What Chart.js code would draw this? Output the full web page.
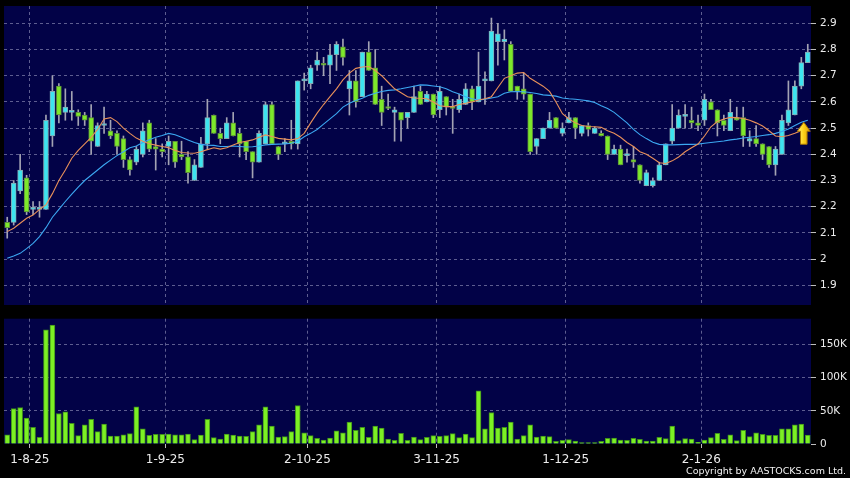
<!DOCTYPE html>
<html>
<head>
<meta charset="utf-8">
<title>Daily chart</title>
<script src="https://cdn.jsdelivr.net/npm/chart.js@4.4.1/dist/chart.umd.min.js"></script>
<style>
  html, body { margin: 0; padding: 0; background: #000; }
  #wrap { position: relative; width: 850px; height: 478px; background: #000; overflow: hidden; }
  #priceCanvas { position: absolute; left: 0; top: 0; }
  #volCanvas { position: absolute; left: 0; top: 312px; }
  #copyright { position: absolute; right: 4px; top: 465px; color: #f2f2f2; font: 9.5px "DejaVu Sans", Verdana, sans-serif; line-height: 12px; }
</style>
</head>
<body>
<div id="wrap">
  <canvas id="priceCanvas" width="850" height="312"></canvas>
  <canvas id="volCanvas" width="850" height="166"></canvas>
  <div id="copyright">Copyright by AASTOCKS.com Ltd.</div>
</div>
<script>
// ===== Data (one entry per trading day) =====
const tickBars = [4, 25, 47, 67, 87, 108];
const tickDates = ['1-8-25', '1-9-25', '2-10-25', '3-11-25', '1-12-25', '2-1-26'];
const priceTicks = [1.9, 2.0, 2.1, 2.2, 2.3, 2.4, 2.5, 2.6, 2.7, 2.8, 2.9];
const priceTickLabels = ['1.9', '2', '2.1', '2.2', '2.3', '2.4', '2.5', '2.6', '2.7', '2.8', '2.9'];
const volTicks = [0, 50, 100, 150];
const volTickLabels = ['0', '50K', '100K', '150K'];

const opens = [
  2.14, 2.14, 2.26, 2.31, 2.19, 2.19, 2.19, 2.47, 2.66, 2.56,
  2.56, 2.56, 2.55, 2.54, 2.43, 2.51, 2.49, 2.48, 2.46, 2.38,
  2.37, 2.40, 2.52, 2.43, 2.42, 2.43, 2.45, 2.40, 2.39, 2.30,
  2.35, 2.44, 2.55, 2.48, 2.46, 2.52, 2.48, 2.45, 2.41, 2.37,
  2.44, 2.59, 2.43, 2.44, 2.45, 2.44, 2.68, 2.67, 2.74, 2.745,
  2.74, 2.78, 2.81, 2.65, 2.68, 2.62, 2.79, 2.73, 2.61, 2.58,
  2.56, 2.56, 2.54, 2.56, 2.64, 2.60, 2.63, 2.57, 2.62, 2.58,
  2.57, 2.59, 2.65, 2.60, 2.68, 2.68, 2.83, 2.83, 2.82, 2.66,
  2.65, 2.63, 2.43, 2.46, 2.50, 2.54, 2.48, 2.52, 2.54, 2.48,
  2.51, 2.48, 2.48, 2.47, 2.40, 2.42, 2.395, 2.38, 2.36, 2.28,
  2.28, 2.30, 2.36, 2.45, 2.50, 2.545, 2.53, 2.52, 2.53, 2.60,
  2.57, 2.53, 2.49, 2.54, 2.54, 2.45, 2.46, 2.44, 2.43, 2.36,
  2.40, 2.52, 2.55, 2.66, 2.75
];
const highs = [
  2.16, 2.30, 2.40, 2.32, 2.22, 2.22, 2.55, 2.70, 2.67, 2.65,
  2.64, 2.57, 2.56, 2.59, 2.52, 2.58, 2.53, 2.49, 2.47, 2.39,
  2.43, 2.52, 2.53, 2.46, 2.44, 2.47, 2.45, 2.45, 2.41, 2.38,
  2.465, 2.61, 2.55, 2.50, 2.54, 2.56, 2.50, 2.45, 2.41, 2.49,
  2.60, 2.60, 2.43, 2.46, 2.53, 2.68, 2.71, 2.74, 2.79, 2.77,
  2.82, 2.83, 2.84, 2.72, 2.72, 2.79, 2.83, 2.80, 2.66, 2.63,
  2.58, 2.56, 2.56, 2.66, 2.66, 2.64, 2.63, 2.66, 2.62, 2.61,
  2.63, 2.67, 2.66, 2.79, 2.715, 2.92, 2.90, 2.875, 2.83, 2.66,
  2.71, 2.63, 2.46, 2.50, 2.56, 2.54, 2.52, 2.56, 2.54, 2.51,
  2.52, 2.505, 2.49, 2.47, 2.435, 2.435, 2.42, 2.43, 2.36, 2.34,
  2.31, 2.37, 2.44, 2.59, 2.57, 2.59, 2.58, 2.55, 2.63, 2.61,
  2.57, 2.55, 2.61, 2.58, 2.58, 2.49, 2.51, 2.44, 2.43, 2.43,
  2.55, 2.68, 2.68, 2.77, 2.82
];
const lows = [
  2.08, 2.13, 2.25, 2.17, 2.17, 2.16, 2.19, 2.43, 2.52, 2.53,
  2.53, 2.51, 2.51, 2.40, 2.43, 2.48, 2.46, 2.40, 2.35, 2.32,
  2.36, 2.39, 2.41, 2.34, 2.39, 2.36, 2.35, 2.38, 2.29, 2.30,
  2.35, 2.42, 2.48, 2.44, 2.46, 2.47, 2.39, 2.38, 2.31, 2.37,
  2.44, 2.44, 2.38, 2.41, 2.42, 2.42, 2.645, 2.65, 2.72, 2.70,
  2.67, 2.72, 2.74, 2.55, 2.58, 2.62, 2.72, 2.59, 2.51, 2.57,
  2.45, 2.45, 2.50, 2.56, 2.59, 2.60, 2.54, 2.54, 2.55, 2.48,
  2.56, 2.59, 2.57, 2.60, 2.59, 2.68, 2.74, 2.76, 2.64, 2.61,
  2.61, 2.40, 2.40, 2.46, 2.50, 2.50, 2.47, 2.52, 2.46, 2.47,
  2.47, 2.48, 2.47, 2.38, 2.40, 2.36, 2.37, 2.35, 2.29, 2.28,
  2.275, 2.30, 2.36, 2.44, 2.50, 2.50, 2.50, 2.49, 2.51, 2.57,
  2.47, 2.49, 2.49, 2.53, 2.43, 2.43, 2.43, 2.38, 2.35, 2.32,
  2.40, 2.51, 2.55, 2.65, 2.75
];
const closes = [
  2.12, 2.29, 2.34, 2.18, 2.19, 2.195, 2.53, 2.64, 2.55, 2.58,
  2.56, 2.545, 2.53, 2.45, 2.51, 2.515, 2.47, 2.43, 2.38, 2.34,
  2.42, 2.49, 2.42, 2.42, 2.41, 2.45, 2.37, 2.39, 2.33, 2.36,
  2.44, 2.54, 2.48, 2.46, 2.52, 2.47, 2.44, 2.41, 2.37, 2.48,
  2.59, 2.44, 2.40, 2.44, 2.44, 2.68, 2.68, 2.73, 2.76, 2.74,
  2.78, 2.82, 2.77, 2.68, 2.60, 2.79, 2.72, 2.59, 2.56, 2.575,
  2.57, 2.53, 2.56, 2.62, 2.59, 2.63, 2.55, 2.64, 2.58, 2.575,
  2.61, 2.65, 2.60, 2.66, 2.68, 2.87, 2.86, 2.84, 2.64, 2.64,
  2.63, 2.41, 2.46, 2.50, 2.53, 2.50, 2.50, 2.54, 2.50, 2.51,
  2.495, 2.50, 2.47, 2.40, 2.42, 2.36, 2.395, 2.37, 2.30, 2.33,
  2.30, 2.36, 2.44, 2.50, 2.55, 2.55, 2.52, 2.51, 2.61, 2.57,
  2.52, 2.51, 2.56, 2.53, 2.47, 2.46, 2.44, 2.40, 2.36, 2.42,
  2.53, 2.57, 2.66, 2.75, 2.79
];
// short moving average (orange)
const ma10 = [
  2.105, 2.118, 2.137, 2.156, 2.168, 2.19, 2.207, 2.25, 2.30, 2.34,
  2.385, 2.415, 2.44, 2.465, 2.495, 2.535, 2.54, 2.525, 2.50, 2.48,
  2.462, 2.45, 2.44, 2.435, 2.43, 2.425, 2.415, 2.407, 2.405, 2.404,
  2.41, 2.418, 2.425, 2.42, 2.425, 2.436, 2.445, 2.45, 2.455, 2.465,
  2.474, 2.468, 2.461, 2.458, 2.455, 2.46, 2.48, 2.52, 2.557, 2.59,
  2.62, 2.65, 2.684, 2.71, 2.728, 2.733, 2.735, 2.72, 2.70, 2.675,
  2.65, 2.635, 2.62, 2.615, 2.614, 2.612, 2.60, 2.585, 2.582, 2.582,
  2.59, 2.595, 2.60, 2.607, 2.612, 2.62, 2.655, 2.69, 2.70, 2.71,
  2.712, 2.69, 2.675, 2.66, 2.64, 2.60, 2.555, 2.535, 2.52, 2.51,
  2.506, 2.505, 2.503, 2.49, 2.48, 2.465, 2.445, 2.43, 2.41, 2.40,
  2.385, 2.368, 2.365, 2.375, 2.39, 2.41, 2.425, 2.439, 2.47, 2.505,
  2.525, 2.535, 2.541, 2.54, 2.537, 2.53, 2.52, 2.508, 2.49, 2.47,
  2.467, 2.472, 2.48, 2.49, 2.50
];
// long moving average (blue)
const ma20 = [
  2.003, 2.012, 2.022, 2.04, 2.06, 2.086, 2.12, 2.16, 2.19, 2.22,
  2.248, 2.275, 2.30, 2.32, 2.34, 2.36, 2.378, 2.395, 2.41, 2.425,
  2.432, 2.445, 2.456, 2.465, 2.472, 2.48, 2.475, 2.465, 2.455, 2.445,
  2.438, 2.435, 2.434, 2.43, 2.43, 2.432, 2.43, 2.428, 2.429, 2.432,
  2.436, 2.438, 2.439, 2.44, 2.442, 2.45, 2.467, 2.48, 2.495, 2.515,
  2.535, 2.555, 2.58, 2.595, 2.605, 2.614, 2.625, 2.633, 2.64, 2.644,
  2.646, 2.65, 2.655, 2.66, 2.665, 2.664, 2.661, 2.658, 2.65, 2.639,
  2.63, 2.62, 2.612, 2.607, 2.61, 2.615, 2.62, 2.633, 2.639, 2.64,
  2.639, 2.636, 2.632, 2.627, 2.625, 2.622, 2.615, 2.612, 2.61, 2.607,
  2.604, 2.598, 2.585, 2.575, 2.56, 2.54, 2.52, 2.495, 2.475, 2.46,
  2.446, 2.438, 2.436, 2.436, 2.437, 2.438, 2.438, 2.439, 2.442, 2.445,
  2.448, 2.451, 2.455, 2.458, 2.462, 2.465, 2.468, 2.472, 2.475, 2.48,
  2.487, 2.497, 2.51, 2.522, 2.53
];
// turnover volume, thousands of shares
const volumesK = [
  14, 53.5, 55, 39, 25, 10, 172, 179, 46, 48.5,
  31, 12.6, 29, 37, 18.7, 30, 12, 12, 14, 15.7,
  56, 23, 13, 14.6, 14.6, 15, 14, 14, 15, 6.5,
  13.6, 37, 9.6, 7.6, 15, 13.6, 12, 11.6, 18.7, 29,
  56, 27, 10.6, 11, 18.7, 58, 16.7, 12.6, 8.6, 6,
  9, 20, 17, 33, 20.7, 25, 10, 27, 24, 7.6,
  5.5, 16, 5.5, 10.6, 6.5, 10, 12.6, 11.6, 12.6, 15.7,
  9.6, 15, 9.6, 80, 22.7, 47.5, 24, 25, 33, 7.6,
  12.6, 29, 10.6, 12, 11, 4, 5.5, 6.5, 4.5, 2,
  2, 2, 4, 8.6, 9, 6, 5.5, 8.6, 7, 4.5,
  4.5, 10, 8, 27, 5, 8, 7.6, 2.5, 6, 9.6,
  16, 7, 14, 5, 20.7, 11, 16.7, 14.6, 13, 13,
  23, 23, 29, 30, 13.6
];

// ===== Styling =====
Chart.defaults.font.family = '"DejaVu Sans", Verdana, sans-serif';
Chart.defaults.color = '#ececec';

const NAVY = '#020247';
const GRID = '#5d5d90';
const TICK = '#bdbdbd';
const UP = '#3de4ef', UP_EDGE = '#86a9b3';
const DOWN = '#7de82b', DOWN_EDGE = '#5c8c3a';
const WICK = '#a3a3b3';
const VOL_FILL = '#7cf024', VOL_EDGE = '#3f8f1c';

// black page with the navy plot panel
const panelBg = {
  id: 'panelBg',
  beforeDraw(chart) {
    const { ctx, chartArea: a } = chart;
    ctx.save();
    ctx.fillStyle = '#000';
    ctx.fillRect(0, 0, chart.width, chart.height);
    ctx.fillStyle = NAVY;
    ctx.fillRect(a.left, a.top, a.right - a.left, a.bottom - a.top);
    ctx.restore();
  }
};

// yellow up-arrow sitting under the last point of the long average
const upArrow = {
  id: 'upArrow',
  afterDatasetsDraw(chart) {
    const last = closes.length - 1;
    const x = chart.scales.x.getPixelForValue(last) - 4;
    const tip = chart.scales.y.getPixelForValue(ma20[last]) + 2;
    const ctx = chart.ctx;
    ctx.save();
    const g = ctx.createLinearGradient(x - 6, 0, x + 6, 0);
    g.addColorStop(0, '#fff07a');
    g.addColorStop(0.45, '#ffd41c');
    g.addColorStop(1, '#e3a400');
    ctx.beginPath();
    ctx.moveTo(x, tip);
    ctx.lineTo(x + 6.5, tip + 9);
    ctx.lineTo(x + 3.3, tip + 9);
    ctx.lineTo(x + 3.3, tip + 22);
    ctx.lineTo(x - 3.3, tip + 22);
    ctx.lineTo(x - 3.3, tip + 9);
    ctx.lineTo(x - 6.5, tip + 9);
    ctx.closePath();
    ctx.fillStyle = g;
    ctx.fill();
    ctx.strokeStyle = '#a87400';
    ctx.lineWidth = 1;
    ctx.stroke();
    ctx.restore();
  }
};

// shared date axis (linear, one unit per trading day)
function dateAxis(showLabels) {
  return {
    type: 'linear',
    offset: false,
    min: -0.5,
    max: closes.length - 0.5,
    afterBuildTicks: s => { s.ticks = tickBars.map(b => ({ value: b - 0.5 })); },
    afterFit: s => {
      s.height = showLabels ? 34 : 7;
      s.paddingLeft = 0;
      s.paddingRight = 0;
    },
    grid: { offset: false, color: GRID, lineWidth: 1, drawTicks: showLabels, tickLength: 4, tickColor: TICK, tickBorderDash: [] },
    border: { display: false, dash: [3, 3] },
    ticks: {
      display: showLabels, padding: 5, maxRotation: 0, autoSkip: false,
      font: { size: 12 }, color: '#ececec',
      callback: (v, i) => tickDates[i]
    }
  };
}

// right-hand value axis; keeps the plot panel at a fixed size
function valueAxis(min, max, ticks, labels, hideZeroLine) {
  return {
    position: 'right',
    beginAtZero: false,
    min: min,
    max: max,
    afterBuildTicks: s => { s.ticks = ticks.map(v => ({ value: v })); },
    afterFit: s => {
      s.width = 39;
      s.paddingTop = 0;
      s.paddingBottom = 0;
    },
    grid: {
      color: c => (hideZeroLine && c.tick && c.tick.value === 0) ? 'rgba(0,0,0,0)' : GRID,
      tickLength: 5, tickColor: TICK, tickBorderDash: []
    },
    border: { display: false, dash: [3, 3] },
    ticks: { padding: 4, font: { size: 10.5 }, color: '#ececec', callback: (v, i) => labels[i] }
  };
}

// ===== Price chart =====
const upOrDown = (a, b) => opens.map((o, i) => closes[i] >= o ? a : b);

new Chart(document.getElementById('priceCanvas'), {
  type: 'bar',
  data: {
    datasets: [
      {
        type: 'line', label: 'MA10', order: 0,
        data: ma10.map((v, i) => ({ x: i, y: v })),
        borderColor: '#e8905a', borderWidth: 1.1, pointRadius: 0, tension: 0
      },
      {
        type: 'line', label: 'MA20', order: 0,
        data: ma20.map((v, i) => ({ x: i, y: v })),
        borderColor: '#3ca8f2', borderWidth: 1.1, pointRadius: 0, tension: 0
      },
      {
        label: 'Body', order: 1, grouped: false,
        data: opens.map((o, i) => ({ x: i, y: [o, closes[i]] })),
        backgroundColor: upOrDown(UP, DOWN),
        borderColor: upOrDown(UP_EDGE, DOWN_EDGE),
        borderWidth: 1, borderSkipped: false, barThickness: 5, minBarLength: 2
      },
      {
        label: 'Wick', order: 2, grouped: false,
        data: lows.map((l, i) => ({ x: i, y: [l, highs[i]] })),
        backgroundColor: WICK, borderWidth: 0, barThickness: 1
      }
    ]
  },
  options: {
    responsive: false,
    animation: false,
    devicePixelRatio: 1,
    layout: { padding: { left: 4, top: 6, right: 0, bottom: 0 } },
    plugins: { legend: { display: false }, tooltip: { enabled: false } },
    scales: {
      x: dateAxis(false),
      y: valueAxis(1.825, 2.966, priceTicks, priceTickLabels, false)
    }
  },
  plugins: [panelBg, upArrow]
});

// ===== Volume chart =====
new Chart(document.getElementById('volCanvas'), {
  type: 'bar',
  data: {
    datasets: [{
      label: 'Volume', grouped: false,
      data: volumesK.map((v, i) => ({ x: i, y: v })),
      backgroundColor: VOL_FILL,
      borderColor: VOL_EDGE,
      borderWidth: 1, borderSkipped: 'start', barThickness: 5
    }]
  },
  options: {
    responsive: false,
    animation: false,
    devicePixelRatio: 1,
    layout: { padding: { left: 4, top: 6.7, right: 0, bottom: 0 } },
    plugins: { legend: { display: false }, tooltip: { enabled: false } },
    scales: {
      x: dateAxis(true),
      y: valueAxis(0, 188.8, volTicks, volTickLabels, true)
    }
  },
  plugins: [panelBg]
});
</script>
</body>
</html>
